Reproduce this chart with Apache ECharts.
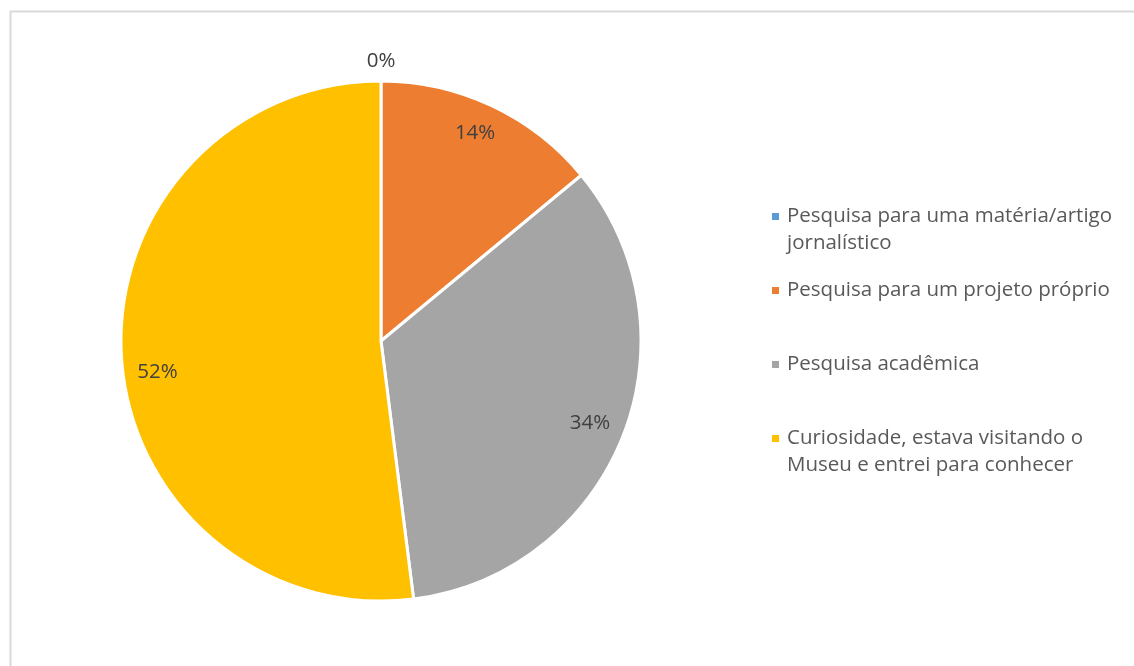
<!DOCTYPE html>
<html>
<head>
<meta charset="utf-8">
<script src="https://cdn.jsdelivr.net/npm/echarts@6/dist/echarts.min.js"></script>
<style>
  html, body { margin: 0; padding: 0; background: #fff; }
  #chart { width: 1134px; height: 666px; }
</style>
</head>
<body>
<div id="chart"></div>
<script>
// Motivo da visita — shares of respondents
const categories = [
  'Pesquisa para uma matéria/artigo\njornalístico',
  'Pesquisa para um projeto próprio',
  'Pesquisa acadêmica',
  'Curiosidade, estava visitando o\nMuseu e entrei para conhecer'
];
const values = [0, 14, 34, 52];
const colors = ['#5B9BD5', '#ED7D31', '#A5A5A5', '#FFC000'];

const FONT = 'Open Sans';
const FONT_SIZE = 20.5;
const CENTER = [381, 341];

const pct = p => Math.round(p.percent) + '%';

const pieData = categories.map((name, i) => ({
  name: name,
  value: values[i],
  itemStyle: { color: colors[i] }
}));

// legend entries: coloured square on the first line, indented continuation,
// every entry occupies two lines so the rows stay evenly spaced
const legendRich = {
  t: { fontFamily: FONT, fontSize: FONT_SIZE, color: '#595959', lineHeight: 27 },
  gap: { width: 8, height: 7 },
  ind: { width: 15, height: 7, lineHeight: 27 }
};
colors.forEach((c, i) => {
  legendRich['sq' + i] = { width: 7, height: 7, backgroundColor: c };
});

// the largest slice's label sits a little lower than its mid-angle
const labelShift = (i) => (values[i] === Math.max(...values) ? [4, 17] : [-3, -2]);

const chart = echarts.init(document.getElementById('chart'), null, { renderer: 'canvas' });
chart.setOption({
  animation: false,
  backgroundColor: '#fff',
  graphic: [{
    type: 'rect',
    left: 8, top: 9,
    shape: { width: 1150, height: 700 },
    style: { fill: 'none', stroke: '#D9D9D9', lineWidth: 2 },
    silent: true
  }],
  legend: {
    orient: 'vertical',
    left: 766,
    top: 206,
    padding: 0,
    itemGap: 26,
    itemWidth: 0,
    itemHeight: 0,
    selectedMode: false,
    data: categories,
    formatter: name => {
      const i = categories.indexOf(name);
      const lines = name.split('\n');
      if (lines.length < 2) lines.push('');
      return lines.map((l, k) =>
        (k === 0 ? '{sq' + i + '|}{gap|}' : '{ind|}') + (l ? '{t|' + l + '}' : '{t| }')
      ).join('\n');
    },
    textStyle: { rich: legendRich }
  },
  series: [
    {
      // the slices
      type: 'pie',
      center: CENTER,
      radius: 260,
      startAngle: 90,
      clockwise: true,
      silent: true,
      label: { show: false },
      labelLine: { show: false },
      itemStyle: { borderColor: '#fff', borderWidth: 3 },
      data: pieData
    },
    {
      // percentage labels placed inside the slices, near the rim
      type: 'pie',
      center: CENTER,
      radius: [191, 259],
      startAngle: 90,
      clockwise: true,
      silent: true,
      itemStyle: { color: 'transparent' },
      labelLine: { show: false },
      label: {
        position: 'inside',
        formatter: pct,
        fontFamily: FONT, fontSize: FONT_SIZE, color: '#404040'
      },
      data: categories.map((name, i) => ({
        name: name, value: values[i],
        label: { show: values[i] > 0, offset: labelShift(i) }
      }))
    },
    {
      // labels for empty slices sit just outside the rim
      type: 'pie',
      center: CENTER,
      radius: [266, 288],
      startAngle: 90,
      clockwise: true,
      silent: true,
      itemStyle: { color: 'transparent' },
      labelLine: { show: false },
      label: {
        position: 'inside',
        formatter: pct,
        fontFamily: FONT, fontSize: FONT_SIZE, color: '#404040'
      },
      data: categories.map((name, i) => ({
        name: name, value: values[i],
        label: { show: values[i] === 0 }
      }))
    }
  ]
});
</script>
</body>
</html>
